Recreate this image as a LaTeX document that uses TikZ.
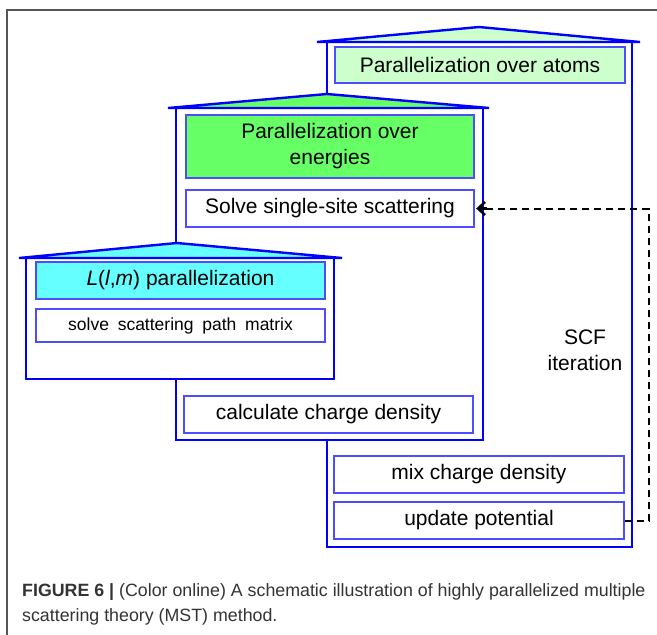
\documentclass[tikz,border=0pt]{standalone}
\usepackage{fontspec}
\setmainfont{Liberation Sans}
\usetikzlibrary{arrows.meta}
\definecolor{wallblue}{HTML}{0000FF}
\definecolor{boxblue}{HTML}{4D4DFF}
\definecolor{atomgreen}{HTML}{CCFFCC}
\definecolor{energygreen}{HTML}{66FF66}
\definecolor{lmcyan}{HTML}{66FFFF}
\definecolor{framegray}{HTML}{555555}
\definecolor{captext}{HTML}{333333}
\tikzset{
  wall/.style={draw=wallblue, line width=2.4pt, fill=white},
  roof/.style={draw=wallblue, line width=2.4pt, line join=miter},
  taskbox/.style={draw=boxblue, line width=1.4pt, fill=white, minimum width=289pt, minimum height=37pt, inner sep=0pt, font=\fontsize{21}{26}\selectfont, align=center},
  maintext/.style={font=\fontsize{21}{26}\selectfont, align=center, inner sep=0pt},
  captionline/.style={anchor=base west, inner sep=0pt, text=captext, font=\fontsize{17.8}{21}\selectfont},
  feedback/.style={draw=black, line width=2pt, dash pattern=on 7pt off 5pt},
  feedtip/.style={draw=black, line width=2.5pt, -{Straight Barb[length=7pt,width=13pt,line width=2.5pt]}}
}
\begin{document}
\begin{tikzpicture}[x=1pt,y=-1pt]
\useasboundingbox (0,0) rectangle (657,635);
% frame
\draw[framegray, line width=1.3pt] (7,635) -- (7,10) -- (657,10);
% atoms house
\draw[wall] (327,42) rectangle (632,547);
\draw[roof, fill=atomgreen] (317,42) -- (479,27) -- (640,42) -- cycle;
\node[taskbox, fill=atomgreen, minimum width=290pt, minimum height=36pt] (atoms) at (480,65) {Parallelization over atoms};
\node[taskbox, minimum width=290pt] (mix) at (479,474.5) {mix charge density};
\node[taskbox, minimum width=290pt] (update) at (479,520.5) {update potential};
\node[maintext] (scf) at (585,350) {SCF\\iteration};
% energies house
\draw[wall] (176,108) rectangle (483,440);
\draw[roof, fill=energygreen] (168,108) -- (327,94) -- (489,108) -- cycle;
\node[taskbox, fill=energygreen, minimum width=288pt, minimum height=63pt] (energies) at (330,146.5) {Parallelization over\\energies};
\node[taskbox, minimum width=288pt] (single) at (330,208.5) {Solve single-site scattering};
\node[taskbox] (charge) at (328.5,414.5) {calculate charge density};
% L(l,m) house
\draw[wall] (26,258) rectangle (334,379);
\draw[roof, fill=lmcyan] (19,258) -- (177,243) -- (342,258) -- cycle;
\node[taskbox, fill=lmcyan] (lm) at (180.5,280.5) {\textit{L}(\textit{l},\textit{m}) parallelization};
\node[taskbox, minimum height=33pt, font=\fontsize{17.5}{21}\selectfont] (path) at (180.5,325.5) {solve\enspace scattering\enspace path\enspace matrix};
% feedback loop
\coordinate (loop) at (649,520.5);
\coordinate (tipstart) at ([xshift=12pt]single.east);
\draw[feedback] (update.east) -- (loop) |- (tipstart);
\draw[feedtip] (tipstart) -- ([xshift=1.5pt]single.east);
% caption
\node[captionline] (cap1) at (22,596) {\textbf{FIGURE 6 |} (Color online) A schematic illustration of highly parallelized multiple};
\node[captionline] (cap2) at (22,621) {scattering theory (MST) method.};
\end{tikzpicture}
\end{document}
